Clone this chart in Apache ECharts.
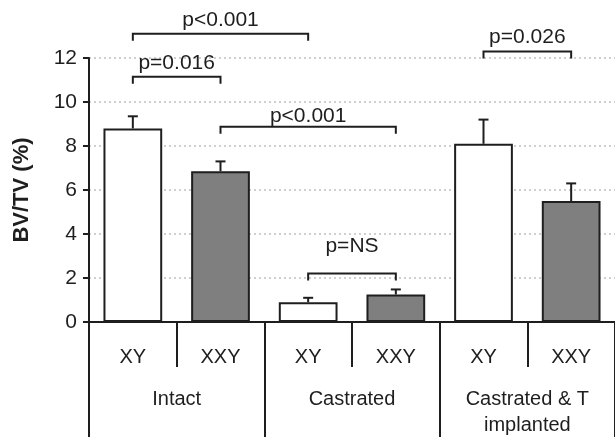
<!DOCTYPE html>
<html>
<head>
<meta charset="utf-8">
<script src="https://cdn.jsdelivr.net/npm/echarts@6/dist/echarts.min.js"></script>
<style>html,body{margin:0;padding:0;background:#fff}#c{width:615px;height:438px}</style>
</head>
<body>
<div id="c"></div>
<script>
// ---- data ----
var genotypes = ['XY', 'XXY', 'XY', 'XXY', 'XY', 'XXY'];
var groups = ['Intact', 'Castrated', 'Castrated & T\nimplanted'];
var bvtv = [8.8, 6.85, 0.9, 1.25, 8.1, 5.5];
var errTop = [9.35, 7.3, 1.1, 1.48, 9.2, 6.3];
var yTicks = [0, 2, 4, 6, 8, 10, 12];
var bracketFrom = [0, 0, 1, 2, 4];
var bracketTo = [2, 1, 3, 3, 5];
var bracketLevel = [13.1, 11.15, 8.87, 2.2, 12.3];
var bracketTextLevel = [13.7, 11.78, 9.36, 3.45, 12.94];
var bracketText = ['p<0.001', 'p=0.016', 'p<0.001', 'p=NS', 'p=0.026'];

// ---- chart ----
var FONT = 'Liberation Sans, Arial, sans-serif';
var INK = '#1e1e1e';
var chart = echarts.init(document.getElementById('c'), null, {renderer: 'canvas'});

var barData = bvtv.map(function (v) { return {value: v}; });
var errData = bvtv.map(function (v, i) { return [i, v, errTop[i]]; });
var brData = bracketFrom.map(function (f, i) {
  return [f, bracketTo[i], bracketLevel[i], bracketTextLevel[i], i];
});

chart.setOption({
  animation: false,
  backgroundColor: '#fff',
  grid: {left: 89, top: 58, width: 529, bottom: 112, containLabel: false},
  xAxis: [{
    type: 'category',
    data: genotypes,
    boundaryGap: true,
    axisLine: {show: true, lineStyle: {color: INK, width: 2}},
    axisTick: {show: true, alignWithLabel: false, interval: 0, length: 45, lineStyle: {color: INK, width: 2}},
    axisLabel: {interval: 0, margin: 25, fontFamily: FONT, fontSize: 20, color: INK},
    splitLine: {show: false}
  }, {
    type: 'category',
    data: groups,
    position: 'bottom',
    boundaryGap: true,
    axisLine: {show: false},
    axisTick: {show: true, interval: 0, length: 115, lineStyle: {color: INK, width: 2}},
    axisLabel: {interval: 0, margin: 64, fontFamily: FONT, fontSize: 20, color: INK, lineHeight: 26, verticalAlign: 'top'},
    splitLine: {show: false}
  }],
  yAxis: {
    type: 'value',
    min: yTicks[0],
    max: yTicks[yTicks.length - 1],
    interval: yTicks[1] - yTicks[0],
    name: 'BV/TV (%)',
    nameLocation: 'middle',
    nameGap: 56,
    nameRotate: 90,
    nameTextStyle: {fontFamily: FONT, fontSize: 22, fontWeight: 'bold', color: INK},
    axisLine: {show: true, lineStyle: {color: INK, width: 2}},
    axisTick: {show: true, length: 6, lineStyle: {color: INK, width: 2}},
    axisLabel: {margin: 12, fontFamily: FONT, fontSize: 21, color: INK},
    splitLine: {show: true, lineStyle: {color: '#cfcfcf', width: 2, type: [2, 3]}}
  },
  series: [{
    type: 'bar',
    xAxisIndex: 0,
    data: barData,
    barWidth: '67%',
    itemStyle: {
      color: function (p) { return p.dataIndex % 2 ? '#7f7f7f' : '#ffffff'; },
      borderColor: INK,
      borderWidth: 2
    },
    z: 2
  }, {
    type: 'custom',
    xAxisIndex: 0,
    data: errData,
    z: 3,
    clip: false,
    renderItem: function (params, api) {
      var lo = api.coord([api.value(0), api.value(1)]);
      var hi = api.coord([api.value(0), api.value(2)]);
      var s = {stroke: INK, lineWidth: 2};
      return {type: 'group', children: [
        {type: 'line', shape: {x1: lo[0], y1: lo[1], x2: hi[0], y2: hi[1]}, style: s},
        {type: 'line', shape: {x1: hi[0] - 5, y1: hi[1], x2: hi[0] + 5, y2: hi[1]}, style: s}
      ]};
    }
  }, {
    type: 'custom',
    xAxisIndex: 0,
    data: brData,
    z: 4,
    clip: false,
    renderItem: function (params, api) {
      var a = api.coord([api.value(0), api.value(2)]);
      var b = api.coord([api.value(1), api.value(2)]);
      var ty = api.coord([api.value(0), api.value(3)])[1];
      var tx = (a[0] + b[0]) / 2;
      var idx = api.value(4);
      var s = {stroke: INK, lineWidth: 2, fill: null};
      return {type: 'group', children: [
        {type: 'polyline', shape: {points: [[a[0], a[1] + 7], [a[0], a[1]], [b[0], b[1]], [b[0], b[1] + 7]]}, style: s},
        {type: 'text', x: tx, y: ty, style: {
          text: bracketText[idx], fontFamily: FONT, fontSize: 21, fill: INK,
          align: 'center', verticalAlign: 'middle'
        }}
      ]};
    }
  }]
});
</script>
</body>
</html>
